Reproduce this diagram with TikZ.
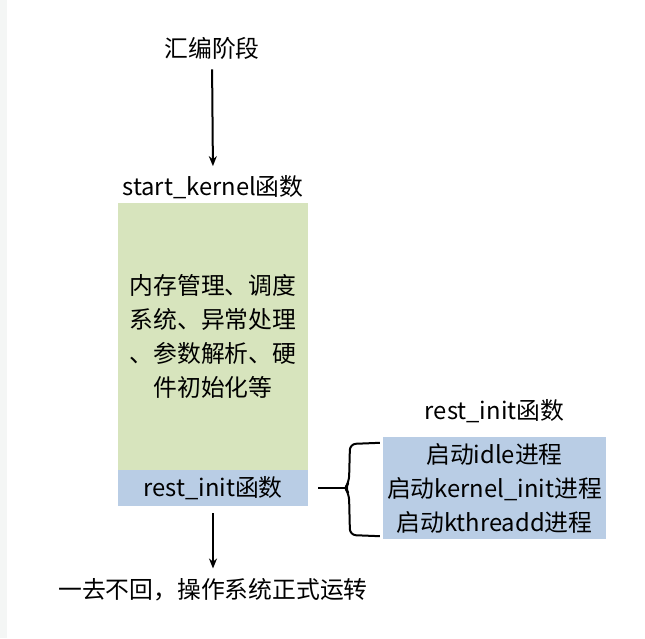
\documentclass[tikz,border=0pt]{standalone}
\usepackage{fontspec}
\setmainfont{Noto Sans CJK SC}
\usetikzlibrary{arrows.meta,positioning,calc}
\definecolor{boxgreen}{HTML}{D7E4BD}
\definecolor{boxblue}{HTML}{B9CDE5}
\definecolor{stripgray}{HTML}{F4F6F5}

\begin{document}
\begin{tikzpicture}[x=1pt,y=-1pt,
    txt/.style={font=\fontsize{23.8}{34}\selectfont, inner sep=0pt},
    arr/.style={-{Stealth[length=10pt,width=8pt]}, line width=2pt}]
    \useasboundingbox (0,0) rectangle (645,638);
    \fill[stripgray] (0,0) rectangle (7,638);
    % left column
    \node[txt] (asm) at (212,48) {汇编阶段};
    \node[txt] (sklabel) at (213,187) {start\_kernel函数};
    \node[txt, fill=boxgreen, align=center, minimum width=190pt, minimum height=267pt] (work) at (213,336.5)
      {内存管理、调度\\系统、异常处理\\、参数解析、硬\\件初始化等};
    \node[txt, fill=boxblue, minimum width=190pt, minimum height=36pt] (rest) at (213,488) {rest\_init函数};
    \node[txt] (final) at (213,590) {一去不回，操作系统正式运转};
    \draw[arr, shorten <=10pt, shorten >=9pt] (asm.south) -- (sklabel.north);
    \draw[arr, shorten <=7pt, shorten >=10pt] (rest.south) -- (final.north);
    % right part
    \node[txt, fill=boxblue, align=center, minimum width=223pt, minimum height=102pt] (procs) at (494.5,488)
      {启动idle进程\\启动kernel\_init进程\\启动kthreadd进程};
    \node[txt, above=14pt of procs] (restlabel) {rest\_init函数};
    \draw[line width=2pt] ($(rest.east)+(10,0)$) -- ($(rest.east)+(38,0)$);
    \draw[line width=2pt, rounded corners=6pt]
      ($(procs.north west)+(-3,6)$) -- (350,444) -- (349,482) -- (345,488) -- (349,494) -- (350,535) -- ($(procs.south west)+(-3,-3)$);
\end{tikzpicture}
\end{document}
